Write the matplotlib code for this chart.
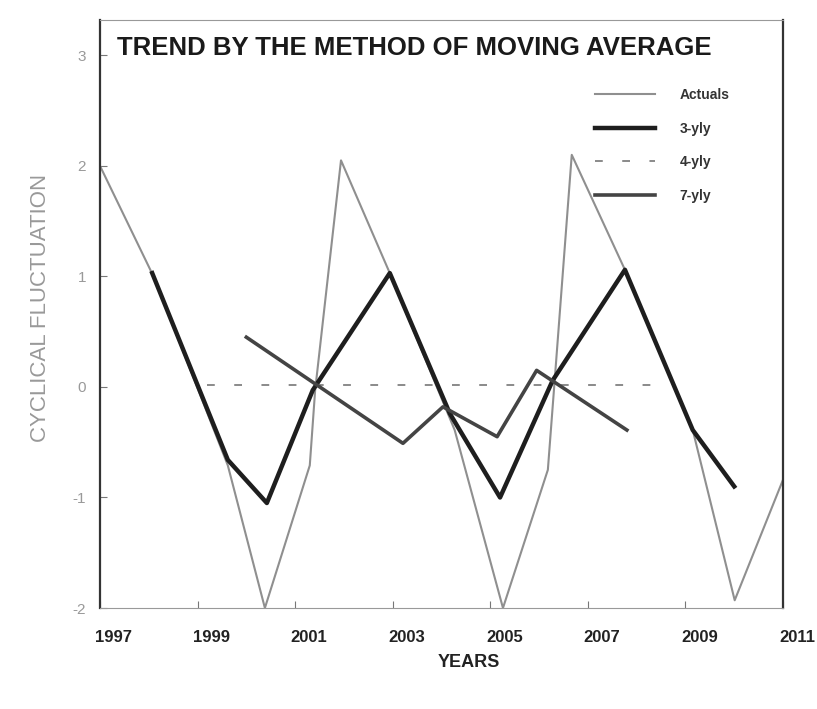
import matplotlib.pyplot as plt
from matplotlib.transforms import ScaledTranslation

# values (x in years, y = cyclical fluctuation)
actual_years = [1997.0, 1998.13, 1999.62, 2000.38, 2001.30, 2001.41, 2001.94, 2002.94,
                2004.27, 2005.26, 2006.18, 2006.32, 2006.67, 2007.76, 2009.15, 2010.01, 2011.0]
actual_vals = [2.0, 0.97, -0.71, -2.0, -0.71, -0.03, 2.05, 1.03,
               -0.39, -2.0, -0.75, 0.06, 2.1, 1.06, -0.39, -1.93, -0.84]

ma3_years = [1998.07, 1999.62, 2000.42, 2001.36, 2002.94, 2004.17,
             2005.2, 2006.28, 2007.76, 2009.15, 2010.0]
ma3_vals = [1.03, -0.66, -1.05, -0.03, 1.03, -0.24, -1.0, 0.06, 1.06, -0.39, -0.9]

ma4_years = [1999.2, 2001, 2003, 2005, 2007, 2008.4]
ma4_vals = [0.02, 0.02, 0.02, 0.02, 0.02, 0.02]

ma7_years = [2000.0, 2003.21, 2004.03, 2005.14, 2005.95, 2007.8]
ma7_vals = [0.45, -0.51, -0.18, -0.45, 0.15, -0.39]

xticks = [1997, 1999, 2001, 2003, 2005, 2007, 2009, 2011]
yticks = [-2, -1, 0, 1, 2, 3]

plt.rcParams['font.family'] = ['Liberation Sans', 'DejaVu Sans']

fig = plt.figure(figsize=(8.17, 7.09), dpi=100)
ax = fig.add_axes([100 / 817, 1 - 608 / 709, 683 / 817, 588 / 709])

ax.plot(actual_years, actual_vals, color='#8f8f8f', lw=1.5, label='Actuals')
ax.plot(ma3_years, ma3_vals, color='#1e1e1e', lw=3.2, label='3-yly')
ax.plot(ma4_years, ma4_vals, color='#8a8a8a', lw=1.4, linestyle=(0, (4, 10)), label='4-yly')
ax.plot(ma7_years, ma7_vals, color='#444444', lw=2.6, label='7-yly')

ax.set_xlim(1997, 2011)
ax.set_ylim(-2, 3.32)
ax.set_xticks(xticks)
ax.set_xticklabels([str(t) for t in xticks], fontsize=12, fontweight='bold', color='#222222')
ax.set_yticks(yticks)
ax.set_yticklabels([str(t) for t in yticks], fontsize=11, color='#999999')
ax.tick_params(direction='in', length=5, color='#777777')
ax.tick_params(axis='x', pad=16)
ax.tick_params(axis='y', pad=10)

# labels in the scan sit a little right of their ticks
shift = ScaledTranslation(14 / 100, 0, fig.dpi_scale_trans)
for lab in ax.get_xticklabels():
    lab.set_transform(lab.get_transform() + shift)

for side in ['left', 'right']:
    ax.spines[side].set_linewidth(1.6)
    ax.spines[side].set_color('#333333')
for side in ['top', 'bottom']:
    ax.spines[side].set_linewidth(0.8)
    ax.spines[side].set_color('#999999')

ax.text(0.025, 0.952, 'TREND BY THE METHOD OF MOVING AVERAGE', transform=ax.transAxes,
        fontsize=18.5, fontweight='bold', color='#1a1a1a', va='center', ha='left')

ax.set_xlabel('YEARS', fontsize=13, fontweight='bold', color='#222222')
ax.xaxis.set_label_coords(0.54, -0.078)
ax.set_ylabel('CYCLICAL FLUCTUATION', fontsize=16, color='#999999')
ax.yaxis.set_label_coords(-0.072, 0.51)

leg = ax.legend(loc='upper right', bbox_to_anchor=(0.94, 0.905), frameon=False,
                fontsize=10, handlelength=4.3, handletextpad=1.8, labelspacing=1.4)
for t in leg.get_texts():
    t.set_fontweight('bold')
    t.set_color('#333333')

plt.savefig('out.png', dpi=100)
